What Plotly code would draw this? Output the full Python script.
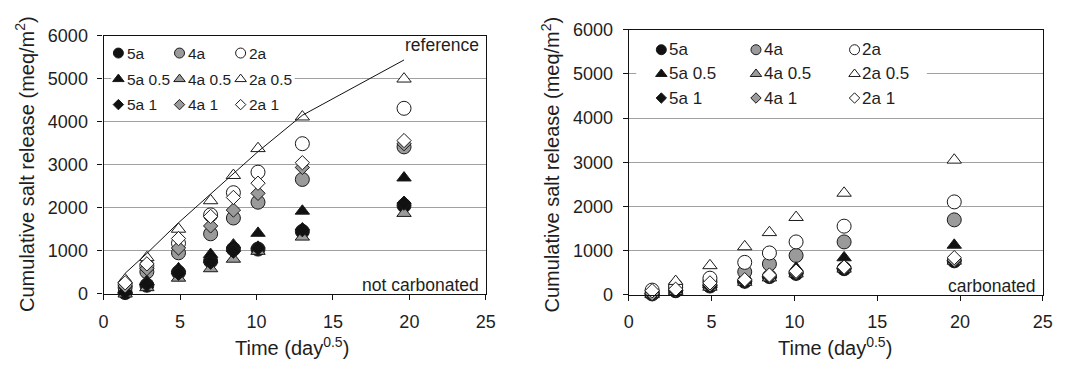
import plotly.graph_objects as go

# ---------------- data ----------------
sqrt_time = [1.41, 2.83, 4.90, 7.00, 8.49, 10.10, 13.00, 19.65]

series_names = ["5a", "4a", "2a", "5a 0.5", "4a 0.5", "2a 0.5", "5a 1", "4a 1", "2a 1"]

# not carbonated (left)
nc_5a = [30, 200, 500, 760, 1040, 1040, 1450, 2050]
nc_4a = [147, 514, 954, 1395, 1762, 2129, 2658, 3414]
nc_2a = [220, 650, 1175, 1835, 2350, 2827, 3488, 4310]
nc_5a_05 = [73, 294, 587, 918, 1138, 1410, 1924, 2695]
nc_4a_05 = [0, 147, 367, 587, 808, 991, 1322, 1872]
nc_2a_05 = [330, 844, 1505, 2166, 2753, 3377, 4112, 4993]
nc_5a_1 = [37, 220, 477, 734, 991, 1065, 1490, 2107]
nc_4a_1 = [184, 587, 1065, 1578, 1946, 2335, 2937, 3488]
nc_2a_1 = [257, 697, 1285, 1799, 2240, 2570, 3047, 3561]
reference = [478, 940, 1652, 2313, 2790, 3304, 4148, 5433]

# carbonated (right)
c_5a = [14, 86, 193, 300, 407, 479, 586, 764]
c_4a = [40, 157, 300, 514, 693, 886, 1193, 1693]
c_2a = [100, 193, 371, 729, 943, 1193, 1550, 2100]
c_5a_05 = [20, 100, 230, 330, 450, 600, 836, 1121]
c_4a_05 = [0, 70, 170, 280, 380, 470, 580, 760]
c_2a_05 = [70, 300, 657, 1086, 1407, 1750, 2300, 3050]
c_5a_1 = [14, 90, 200, 300, 410, 480, 590, 770]
c_4a_1 = [20, 100, 220, 320, 420, 500, 600, 780]
c_2a_1 = [86, 121, 264, 336, 443, 529, 621, 836]

x_ticks = [0, 5, 10, 15, 20, 25]
y_ticks = [0, 1000, 2000, 3000, 4000, 5000, 6000]

# ---------------- styles ----------------
FONT = "Liberation Sans, Arial, sans-serif"
TXT = "#1e1e1e"
fills = {"5a": "#111111", "4a": "#9a9a9a", "2a": "#ffffff"}
symbols = {"": "circle", " 0.5": "triangle-up", " 1": "diamond"}
sizes = {"circle": 14, "triangle-up": 12.5, "diamond": 11}
leg_sizes = {"circle": 10, "triangle-up": 10, "diamond": 8}

W, H = 1065, 372
def px_x(p):
    return p / W
def px_y(p):
    return 1 - p / H

fig = go.Figure()

nc_data = [nc_5a, nc_4a, nc_2a, nc_5a_05, nc_4a_05, nc_2a_05, nc_5a_1, nc_4a_1, nc_2a_1]
c_data = [c_5a, c_4a, c_2a, c_5a_05, c_4a_05, c_2a_05, c_5a_1, c_4a_1, c_2a_1]

def split(name):
    base = name.split(" ")[0]
    return base, symbols[name[len(base):]]

def add_panel(data, xa, ya):
    for name, vals in zip(series_names, data):
        base, sym = split(name)
        fig.add_trace(go.Scatter(
            x=sqrt_time, y=vals, mode="markers", name=name,
            xaxis=xa, yaxis=ya, cliponaxis=False, showlegend=False,
            marker=dict(symbol=sym, size=sizes[sym], color=fills[base],
                        line=dict(color="#1a1a1a", width=1)),
        ))

add_panel(nc_data, "x", "y")
fig.add_trace(go.Scatter(x=sqrt_time, y=reference, mode="lines", xaxis="x", yaxis="y",
                         line=dict(color="#111111", width=1), showlegend=False,
                         cliponaxis=False, name="reference"))
add_panel(c_data, "x2", "y2")

# ---------------- legends (drawn on a full-figure pixel overlay) ----------------
legend_layouts = [
    dict(cols=[115, 177, 239], rows=[45.5, 73, 100], gap=6.5, fsize=15.5),
    dict(cols=[665.7, 761.7, 861.7], rows=[42, 67.6, 93], gap=6, fsize=17),
]
for L in legend_layouts:
    for i, name in enumerate(series_names):
        base, sym = split(name)
        cx = L["cols"][i % 3]
        cy = L["rows"][i // 3]
        fig.add_trace(go.Scatter(
            x=[cx], y=[cy], mode="markers", xaxis="x3", yaxis="y3",
            showlegend=False, cliponaxis=False, hoverinfo="skip", name=name,
            marker=dict(symbol=sym, size=leg_sizes[sym], color=fills[base],
                        line=dict(color="#1a1a1a", width=1)),
        ))
        fig.add_annotation(x=cx + L["gap"], y=cy, xref="x3", yref="y3", text=name,
                           showarrow=False, xanchor="left", yanchor="middle",
                           font=dict(family=FONT, size=L["fsize"], color=TXT))

axis_common = dict(showline=True, mirror=True, linecolor="#111111", linewidth=1.2,
                   ticks="outside", ticklen=5, tickcolor="#111111",
                   tickfont=dict(family=FONT, size=18, color=TXT),
                   ticklabelstandoff=6, zeroline=False)

left_dom_x = [px_x(100), px_x(487.7)]
right_dom_x = [px_x(632.7), px_x(1052.7)]
left_dom_y = [px_y(300), px_y(27)]
right_dom_y = [px_y(300.7), px_y(21)]

fig.update_layout(
    width=W, height=H, margin=dict(l=0, r=0, t=0, b=0),
    paper_bgcolor="white", plot_bgcolor="rgba(0,0,0,0)",
    font=dict(family=FONT, color=TXT), showlegend=False,
    xaxis=dict(domain=left_dom_x, range=[0, 25], tickvals=x_ticks, showgrid=False,
               anchor="y", **axis_common),
    yaxis=dict(domain=left_dom_y, range=[0, 6000], tickvals=y_ticks, showgrid=True,
               gridcolor="#a0a0a0", gridwidth=1.3, anchor="x", **axis_common),
    xaxis2=dict(domain=right_dom_x, range=[0, 25], tickvals=x_ticks, showgrid=False,
                anchor="y2", **axis_common),
    yaxis2=dict(domain=right_dom_y, range=[0, 6000], tickvals=y_ticks, showgrid=True,
                gridcolor="#a0a0a0", gridwidth=1.3, anchor="x2", **axis_common),
    xaxis3=dict(domain=[0, 1], range=[0, W], visible=False, anchor="y3", fixedrange=True),
    yaxis3=dict(domain=[0, 1], range=[H, 0], visible=False, anchor="x3", fixedrange=True),
)

# white legend backgrounds hiding the gridlines behind the legend blocks
fig.add_shape(type="rect", xref="x", yref="y", x0=0.5, x1=12.5, y0=4250, y1=5950,
              fillcolor="white", line=dict(width=0), layer="between")
fig.add_shape(type="rect", xref="x2", yref="y2", x0=0.45, x1=18.0, y0=4250, y1=5950,
              fillcolor="white", line=dict(width=0), layer="between")

ann_font = dict(family=FONT, size=17.5, color=TXT)
title_font = dict(family=FONT, size=20, color=TXT)
fig.add_annotation(x=24.7, y=5780, xref="x", yref="y", text="reference", showarrow=False,
                   xanchor="right", yanchor="middle", font=ann_font)
fig.add_annotation(x=24.7, y=200, xref="x", yref="y", text="not carbonated", showarrow=False,
                   xanchor="right", yanchor="middle", font=ann_font)
fig.add_annotation(x=24.7, y=200, xref="x2", yref="y2", text="carbonated", showarrow=False,
                   xanchor="right", yanchor="middle", font=ann_font)

ytitle = "Cumulative salt release (meq/m<sup>2</sup>)"
xtitle = "Time (day<sup>0.5</sup>)"
fig.add_annotation(x=px_x(20), y=px_y(163), xref="paper", yref="paper", text=ytitle,
                   textangle=-90, showarrow=False, font=title_font,
                   xanchor="center", yanchor="middle")
fig.add_annotation(x=px_x(553), y=px_y(163), xref="paper", yref="paper", text=ytitle,
                   textangle=-90, showarrow=False, font=title_font,
                   xanchor="center", yanchor="middle")
fig.add_annotation(x=px_x(291), y=px_y(356), xref="paper", yref="paper", text=xtitle,
                   showarrow=False, font=title_font, xanchor="center", yanchor="middle")
fig.add_annotation(x=px_x(842), y=px_y(356), xref="paper", yref="paper", text=xtitle,
                   showarrow=False, font=title_font, xanchor="center", yanchor="middle")

fig.write_html("out.html")
